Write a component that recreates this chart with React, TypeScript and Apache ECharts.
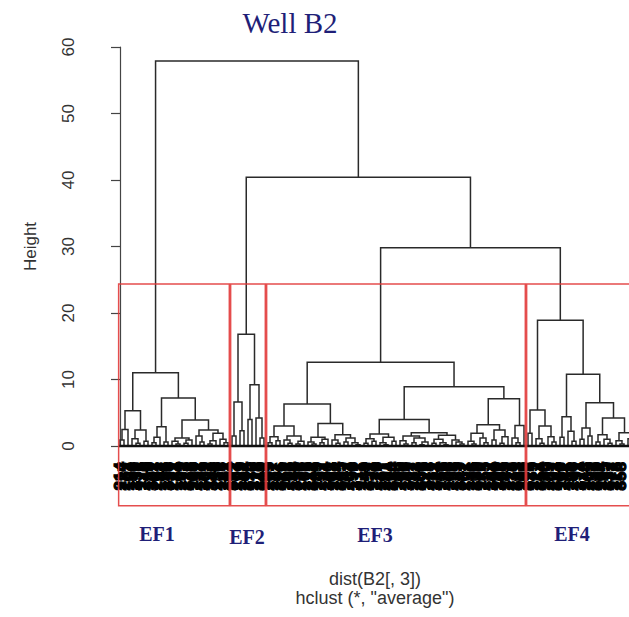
import React, { useEffect, useRef } from "react";
import * as echarts from "echarts";

// A node is either a leaf (0) or [merge height, left, right]
type Node = 0 | [number, Node, Node];

const ef1Tree: Node = [11.0,
  [5.3,
    [2.5, [0.9, 0, 0], 0],
    [2.4, [1.1, 0, [0.4, 0, 0]], [0.7, 0, 0]]],
  [7.2,
    [2.9, [1.3, [0.5, 0, 0], 0], [0.6, 0, 0]],
    [3.9,
      [1.2, [0.7, 0, [0.3, 0, 0]], [0.9, [0.4, 0, 0], 0]],
      [2.4, [1.5, 0, [0.6, 0, 0]], [1.9, [0.8, [0.3, 0, 0], 0], [1.0, 0, [0.5, 0, 0]]]]]]];

const ef2Tree: Node = [16.8,
  [6.6, [1.5, 0, 0], [2.3, 0, 0]],
  [9.2, [4.0, 0, 0], [4.2, 0, [1.2, 0, 0]]]];

const ef3Tree: Node = [12.6,
  [6.3,
    [3.0,
      [1.4, [0.5, 0, 0], [0.8, 0, 0]],
      [1.5, [0.9, 0, [0.4, 0, 0]], [0.7, [0.3, 0, 0], 0]]],
    [3.4,
      [1.3, [0.6, 0, [0.3, 0, 0]], [1.0, [0.5, 0, 0], 0]],
      [1.7, [0.9, 0, [0.4, 0, 0]], [1.2, [0.6, 0, 0], [0.5, 0, [0.2, 0, 0]]]]]],
  [8.9,
    [4.0,
      [1.8, [1.1, [0.4, 0, 0], [0.7, 0, 0]], [1.3, [0.5, 0, [0.2, 0, 0]], [0.7, 0, 0]]],
      [2.0,
        [1.5, [0.8, 0, [0.3, 0, 0]], [1.2, [0.5, 0, 0], [0.6, [0.2, 0, 0], 0]]],
        [1.6, [1.0, [0.4, 0, 0], [0.5, 0, [0.2, 0, 0]]], [0.9, 0, [0.6, 0, [0.3, 0, 0]]]]]],
    [7.1,
      [3.2,
        [1.9, [0.7, 0, [0.3, 0, 0]], [1.2, 0, [0.5, 0, 0]]],
        [2.4, [0.9, 0, 0], [1.4, [0.4, 0, 0], 0]]],
      [3.1, [1.2, 0, [0.5, 0, 0]], 0]]]];

const ef4Tree: Node = [18.9,
  [5.4,
    [1.9, 0, 0],
    [3.0, [1.1, 0, [0.4, 0, 0]], [1.4, 0, [0.6, 0, 0]]]],
  [10.8,
    [4.4, [1.3, 0, 0], [2.2, 0, [0.7, 0, 0]]],
    [6.5,
      [2.7, [1.0, 0, 0], [1.5, 0, 0]],
      [4.2,
        [1.7, [0.6, 0, 0], [1.0, 0, [0.4, 0, 0]]],
        [2.0, [0.8, 0, [0.3, 0, 0]], [1.1, 0, 0]]]]]];

// upper merges: EF1 | rest, EF2 | rest, EF3 | EF4
const upperMergeHeights = [57.9, 40.4, 29.8];
const clusterNames = ["EF1", "EF2", "EF3", "EF4"];
const cutHeight = 24.35;
const boxBottom = -9.0;

const leafLabels = [
  "214", "287", "103", "156", "331", "178", "245", "119", "302", "267",
  "142", "198", "356", "221", "184", "109", "273", "338", "165", "252",
  "127", "309", "193", "346", "236", "118", "281", "154", "372", "207",
  "139", "264", "315", "176", "228", "349", "113", "295", "187", "241",
  "326", "162", "208", "134", "359", "276", "101", "219", "342", "189",
  "257", "124", "301", "168", "234", "365", "147", "283", "196", "317",
  "111", "249", "352", "173", "226", "137", "291", "204", "334", "158",
  "269", "116", "307", "182", "243", "361", "129", "278", "211", "324",
  "151", "239", "106", "298", "185", "347", "262", "131", "216", "339",
  "170", "255", "122", "304", "199", "368", "145", "272", "230", "313",
  "107", "260", "327", "179", "222", "354", "136", "289", "201", "343",
  "160", "247", "115", "296", "191", "374", "148", "265", "232", "319",
  "104", "275", "337", "172", "218", "358", "141", "284", "209",
];

const clusterTrees: Node[] = [ef1Tree, ef2Tree, ef3Tree, ef4Tree];

function countLeaves(n: Node): number {
  return n === 0 ? 1 : countLeaves(n[1]) + countLeaves(n[2]);
}

function buildLayout() {
  const fullTree: Node = [upperMergeHeights[0], ef1Tree,
    [upperMergeHeights[1], ef2Tree, [upperMergeHeights[2], ef3Tree, ef4Tree]]];
  const segs: number[][] = [];
  let leaf = 0;
  const walk = (n: Node): { x: number; h: number } => {
    if (n === 0) return { x: leaf++, h: 0 };
    const [h, l, r] = n;
    const a = walk(l);
    const b = walk(r);
    segs.push([a.x, a.h, b.x, b.h, h]);
    return { x: (a.x + b.x) / 2, h };
  };
  walk(fullTree);
  const nLeaves = leaf;
  const boxes: number[][] = [];
  let start = 0;
  clusterTrees.forEach((t) => {
    const c = countLeaves(t);
    boxes.push([start - 0.34, start + c - 1 + 0.33]);
    start += c;
  });
  return { segs, nLeaves, boxes };
}

const SANS = "Liberation Sans, Arial, sans-serif";
const SERIF = "Liberation Serif, Times New Roman, serif";
const NAVY = "#1f1f78";

export default function App() {
  const ref = useRef<HTMLDivElement>(null);
  useEffect(() => {
    if (!ref.current) return;
    const chart = echarts.init(ref.current, null, { renderer: "svg" });
    const { segs, nLeaves, boxes } = buildLayout();
    const leafData = [];
    for (let i = 0; i < nLeaves; i++) leafData.push([i, 0]);

    const option: any = {
      animation: false,
      grid: { left: 97, right: 0, top: 47, bottom: 171, outerBoundsMode: "none" },
      xAxis: { type: "value", min: -5.75, max: 127.25, show: false },
      yAxis: {
        type: "value", min: 0, max: 60, interval: 10,
        axisLine: { show: true, lineStyle: { color: "#444", width: 1.2 } },
        axisTick: { show: true, length: 9, lineStyle: { color: "#444", width: 1.2 } },
        axisLabel: { rotate: 90, fontSize: 17, color: "#333", margin: 20, fontFamily: SANS },
        splitLine: { show: false },
        name: "Height", nameLocation: "middle", nameRotate: 90, nameGap: 58,
        nameTextStyle: { fontSize: 17, color: "#333", fontFamily: SANS },
      },
      series: [
        {
          type: "custom", name: "tree", clip: false, z: 2,
          data: segs,
          encode: { x: [0, 2], y: [1, 3, 4] },
          renderItem: (params: any, api: any) => {
            const x1 = api.value(0), h1 = api.value(1), x2 = api.value(2), h2 = api.value(3), h = api.value(4);
            return {
              type: "polyline",
              shape: { points: [api.coord([x1, h1]), api.coord([x1, h]), api.coord([x2, h]), api.coord([x2, h2])] },
              style: { stroke: "#2a2a2a", lineWidth: 1.5, fill: "none" },
            };
          },
        },
        {
          type: "custom", name: "baseline", clip: false, z: 3,
          data: [[0, nLeaves - 1]],
          encode: { x: [0, 1] },
          renderItem: (params: any, api: any) => {
            const a = api.coord([api.value(0) - 0.2, 0]);
            const b = api.coord([api.value(1) + 0.2, 0]);
            return { type: "line", shape: { x1: a[0], y1: a[1], x2: b[0], y2: b[1] }, style: { stroke: "#111", lineWidth: 2.5 } };
          },
        },
        {
          type: "custom", name: "leaves", clip: false, z: 1,
          data: leafData,
          encode: { x: 0, y: 1 },
          renderItem: (params: any, api: any) => {
            const p = api.coord([api.value(0), 0]);
            if (p[0] + 7 > api.getWidth()) return null;
            return {
              type: "text", x: p[0], y: p[1] + 16, rotation: Math.PI / 2,
              style: {
                text: leafLabels[params.dataIndex] || "", fontSize: 17, lineHeight: 13, fontWeight: "bold", fontFamily: SANS,
                fill: "#000", stroke: "#000", lineWidth: 1.1, align: "right", verticalAlign: "middle",
              },
            };
          },
        },
        {
          type: "custom", name: "boxes", clip: false, z: 5,
          data: boxes,
          encode: { x: [0, 1] },
          renderItem: (params: any, api: any) => {
            const a = api.coord([api.value(0), cutHeight]);
            const b = api.coord([api.value(1), boxBottom]);
            return {
              type: "rect",
              shape: { x: a[0], y: a[1], width: b[0] - a[0], height: b[1] - a[1] },
              style: { stroke: "#e23b3b", lineWidth: 1.5, fill: "none", opacity: 0.9 },
            };
          },
        },
      ],
      graphic: [
        { type: "text", x: 290, y: 23, style: { text: "Well B2", fontSize: 29, fontFamily: SERIF, fill: NAVY, align: "center", verticalAlign: "middle" } },
        { type: "text", x: 157, y: 534, style: { text: clusterNames[0], fontSize: 20, fontFamily: SERIF, fontWeight: "bold", fill: NAVY, align: "center", verticalAlign: "middle" } },
        { type: "text", x: 247, y: 537, style: { text: clusterNames[1], fontSize: 20, fontFamily: SERIF, fontWeight: "bold", fill: NAVY, align: "center", verticalAlign: "middle" } },
        { type: "text", x: 375, y: 535, style: { text: clusterNames[2], fontSize: 20, fontFamily: SERIF, fontWeight: "bold", fill: NAVY, align: "center", verticalAlign: "middle" } },
        { type: "text", x: 572, y: 534, style: { text: clusterNames[3], fontSize: 20, fontFamily: SERIF, fontWeight: "bold", fill: NAVY, align: "center", verticalAlign: "middle" } },
        { type: "text", x: 375, y: 579, style: { text: "dist(B2[, 3])", fontSize: 18, lineHeight: 17, fontFamily: SANS, fill: "#333", align: "center", verticalAlign: "middle" } },
        { type: "text", x: 375, y: 598, style: { text: 'hclust (*, "average")', fontSize: 18, lineHeight: 17, fontFamily: SANS, fill: "#333", align: "center", verticalAlign: "middle" } },
      ],
    };
    chart.setOption(option);
    return () => chart.dispose();
  }, []);
  return <div ref={ref} style={{ position: "absolute", left: 0, top: 0, width: 629, height: 617 }} />;
}
